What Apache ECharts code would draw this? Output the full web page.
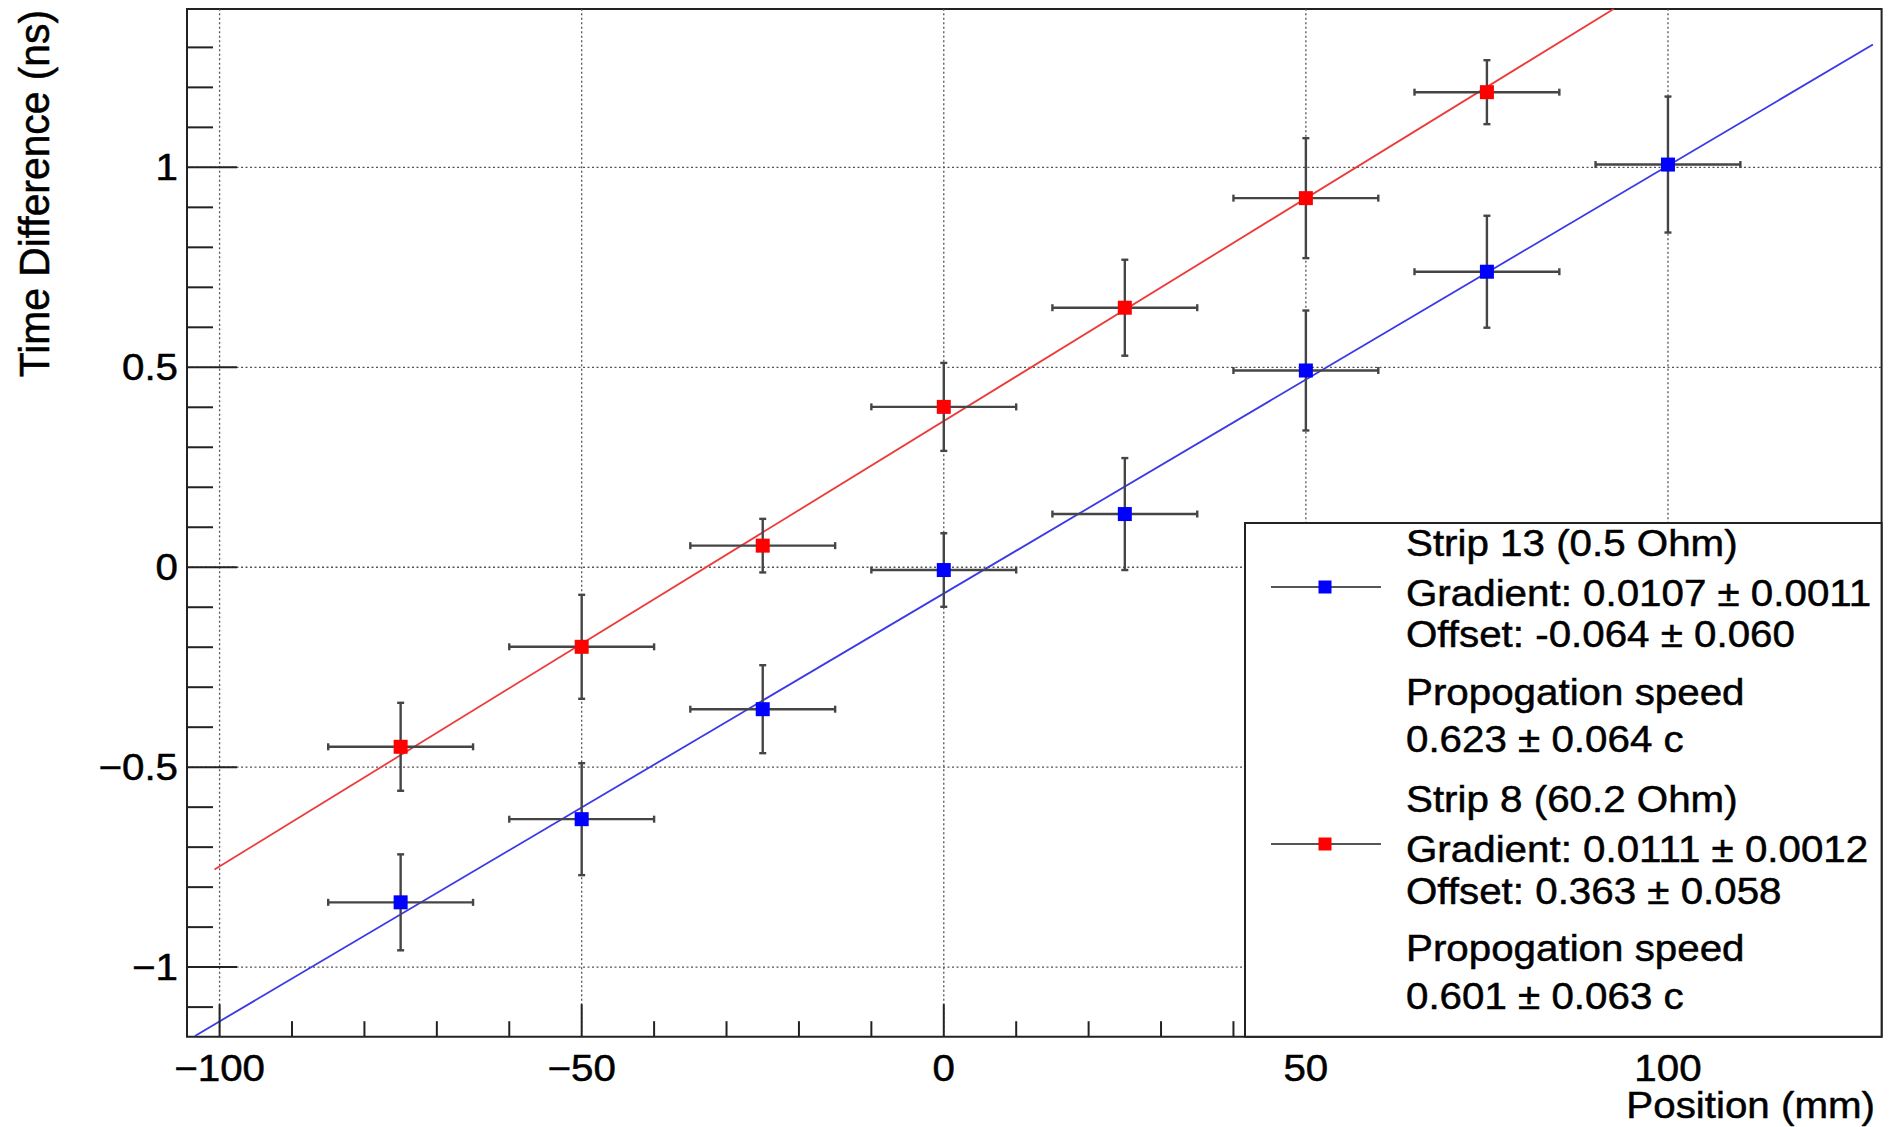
<!DOCTYPE html>
<html><head><meta charset="utf-8">
<script src="https://cdn.jsdelivr.net/npm/echarts@6/dist/echarts.min.js"></script>
<style>html,body{margin:0;padding:0;background:#fff}#c{width:1891px;height:1127px}</style>
</head><body><div id="c"></div>
<script>
// ---- data ----
const positions13 = [-75, -50, -25, 0, 25, 50, 75, 100];
const values13    = [-0.838, -0.630, -0.355, -0.007, 0.133, 0.492, 0.739, 1.007];
const yErr13      = [0.12, 0.14, 0.11, 0.092, 0.14, 0.15, 0.14, 0.17];
const xErr13      = [10, 10, 10, 10, 10, 10, 10, 10];

const positions8 = [-75, -50, -25, 0, 25, 50, 75];
const values8    = [-0.449, -0.199, 0.054, 0.401, 0.649, 0.923, 1.188];
const yErr8      = [0.11, 0.13, 0.067, 0.11, 0.12, 0.15, 0.08];
const xErr8      = [10, 10, 10, 10, 10, 10, 10];

// fit-line end points
const fitLine13 = [[-103.4, -1.172], [128.3, 1.307]];
const fitLine8  = [[-100.7, -0.756], [92.5, 1.396]];

const xRange = [-104.5, 129.5];
const yRange = [-1.174, 1.396];

const xMajorTicks  = [-100, -50, 0, 50, 100];
const xMajorLabels = ['\u2212100', '\u221250', '0', '50', '100'];
const xMinorTicks  = [-90, -80, -70, -60, -40, -30, -20, -10, 10, 20, 30, 40, 60, 70, 80, 90, 110, 120];
const yMajorTicks  = [-1, -0.5, 0, 0.5, 1];
const yMajorLabels = ['\u22121', '\u22120.5', '0', '0.5', '1'];
const yMinorTicks  = [-1.1, -0.9, -0.8, -0.7, -0.6, -0.4, -0.3, -0.2, -0.1, 0.1, 0.2, 0.3, 0.4, 0.6, 0.7, 0.8, 0.9, 1.1, 1.2, 1.3];

const xTitle = 'Position (mm)';
const yTitle = 'Time Difference (ns)';
const legendText13 = ['Strip 13 (0.5 Ohm)', 'Gradient: 0.0107 \u00b1 0.0011', 'Offset: -0.064 \u00b1 0.060', 'Propogation speed', '0.623 \u00b1 0.064 c'];
const legendText8  = ['Strip 8 (60.2 Ohm)', 'Gradient: 0.0111 \u00b1 0.0012', 'Offset: 0.363 \u00b1 0.058', 'Propogation speed', '0.601 \u00b1 0.063 c'];

// ---- styles ----
const FONT = 'Liberation Sans, Arial, Helvetica, sans-serif';
const FS = 37;
const SX = 1.09;
const AX = '#222';
const ERR = '#454545';

const chart = echarts.init(document.getElementById('c'), null, {renderer: 'svg'});

function txt(x, y, text, align, valign, extra) {
  return Object.assign({
    type: 'text', x: x, y: y, scaleX: SX,
    style: {text: text, fontSize: FS, fontFamily: FONT, fill: '#000', stroke: '#000', lineWidth: 0.5,
      align: align, verticalAlign: valign, textAlign: align, textVerticalAlign: valign}
  }, extra || {});
}

const gridLineStyle = {stroke: '#555', lineWidth: 1.3, lineDash: [2, 2.5]};

function vGrid(params, api) {
  const v = api.value(0);
  const a = api.coord([v, yRange[0]]), b = api.coord([v, yRange[1]]);
  return {type: 'line', shape: {x1: a[0], y1: a[1], x2: b[0], y2: b[1]}, style: gridLineStyle};
}
function hGrid(params, api) {
  const v = api.value(1);
  const a = api.coord([xRange[0], v]), b = api.coord([xRange[1], v]);
  return {type: 'line', shape: {x1: a[0], y1: a[1], x2: b[0], y2: b[1]}, style: gridLineStyle};
}
function xTick(len) {
  return function (params, api) {
    const p = api.coord([api.value(0), yRange[0]]);
    return {type: 'line', shape: {x1: p[0], y1: p[1], x2: p[0], y2: p[1] - len}, style: {stroke: AX, lineWidth: 2}};
  };
}
function yTick(len) {
  return function (params, api) {
    const p = api.coord([xRange[0], api.value(1)]);
    return {type: 'line', shape: {x1: p[0], y1: p[1], x2: p[0] + len, y2: p[1]}, style: {stroke: AX, lineWidth: 2}};
  };
}
function xLabel(params, api) {
  const p = api.coord([api.value(0), yRange[0]]);
  return txt(p[0], p[1] + 31, xMajorLabels[params.dataIndex], 'center', 'middle');
}
function yLabel(params, api) {
  const p = api.coord([xRange[0], api.value(1)]);
  return txt(p[0] - 9, p[1], yMajorLabels[params.dataIndex], 'right', 'middle');
}
function errBar(params, api) {
  const x = api.value(0), y = api.value(1), ex = api.value(2), ey = api.value(3);
  const l = api.coord([x - ex, y]), r = api.coord([x + ex, y]);
  const t = api.coord([x, y + ey]), b = api.coord([x, y - ey]);
  const c = 3.5;
  const st = {stroke: ERR, lineWidth: 2.4};
  const ln = (x1, y1, x2, y2) => ({type: 'line', shape: {x1, y1, x2, y2}, style: st});
  return {type: 'group', children: [
    ln(l[0], l[1], r[0], r[1]), ln(t[0], t[1], b[0], b[1]),
    ln(l[0], l[1] - c, l[0], l[1] + c), ln(r[0], r[1] - c, r[0], r[1] + c),
    ln(t[0] - c, t[1], t[0] + c, t[1]), ln(b[0] - c, b[1], b[0] + c, b[1])
  ]};
}

const err13 = positions13.map((x, i) => [x, values13[i], xErr13[i], yErr13[i]]);
const err8  = positions8.map((x, i) => [x, values8[i], xErr8[i], yErr8[i]]);
const pts13 = positions13.map((x, i) => [x, values13[i]]);
const pts8  = positions8.map((x, i) => [x, values8[i]]);

function custom(name, data, fn, z, enc) {
  return {type: 'custom', name: name, data: data, renderItem: fn, z: z, clip: false, silent: true,
    encode: enc || {x: 0, y: 1}, animation: false};
}

// legend block
const LX = 1245, LY = 523, LW = 636.6, LH = 513.7;
const textX = 1406;
const rows13 = [543, 593, 634, 692, 739];
const rows8 = [799, 849, 891, 948, 996];
const legendEls = [
  {type: 'rect', z: 100, shape: {x: LX, y: LY, width: LW, height: LH}, style: {fill: '#ffffff', stroke: AX, lineWidth: 2}},
  {type: 'line', z: 101, shape: {x1: 1271, y1: 587, x2: 1381, y2: 587}, style: {stroke: '#555', lineWidth: 2}},
  {type: 'rect', z: 102, shape: {x: 1318.5, y: 580.5, width: 13, height: 13}, style: {fill: '#0000ff'}},
  {type: 'line', z: 101, shape: {x1: 1271, y1: 844, x2: 1381, y2: 844}, style: {stroke: '#555', lineWidth: 2}},
  {type: 'rect', z: 102, shape: {x: 1318.5, y: 837.5, width: 13, height: 13}, style: {fill: '#ff0000'}}
];
legendText13.forEach((t, i) => legendEls.push(txt(textX, rows13[i], t, 'left', 'middle', {z: 103})));
legendText8.forEach((t, i) => legendEls.push(txt(textX, rows8[i], t, 'left', 'middle', {z: 103})));

const option = {
  backgroundColor: '#fff',
  animation: false,
  grid: {left: 187, right: 9.4, top: 9, bottom: 90.3, show: true, borderColor: AX, borderWidth: 2, backgroundColor: 'transparent'},
  xAxis: {type: 'value', min: xRange[0], max: xRange[1], show: false},
  yAxis: {type: 'value', min: yRange[0], max: yRange[1], show: false},
  series: [
    custom('vgrid', xMajorTicks.map(v => [v, 0]), vGrid, 1),
    custom('hgrid', yMajorTicks.map(v => [0, v]), hGrid, 1),
    {type: 'line', name: 'fit13', data: fitLine13, showSymbol: false, symbol: 'none', clip: true, z: 2, silent: true,
      lineStyle: {color: '#3a3ae6', width: 1.8}},
    {type: 'line', name: 'fit8', data: fitLine8, showSymbol: false, symbol: 'none', clip: true, z: 2, silent: true,
      lineStyle: {color: '#ec3b3b', width: 1.8}},
    custom('err13', err13, errBar, 3),
    custom('err8', err8, errBar, 3),
    {type: 'scatter', name: 'Strip 13', data: pts13, symbol: 'rect', symbolSize: 14, z: 4, silent: true,
      itemStyle: {color: '#0000ff', opacity: 1}},
    {type: 'scatter', name: 'Strip 8', data: pts8, symbol: 'rect', symbolSize: 14, z: 4, silent: true,
      itemStyle: {color: '#ff0000', opacity: 1}},
    custom('xMajor', xMajorTicks.map(v => [v, 0]), xTick(32.5), 5),
    custom('xMinor', xMinorTicks.map(v => [v, 0]), xTick(15.5), 5),
    custom('yMajor', yMajorTicks.map(v => [0, v]), yTick(50), 5),
    custom('yMinor', yMinorTicks.map(v => [0, v]), yTick(26), 5),
    custom('xLabels', xMajorTicks.map(v => [v, 0]), xLabel, 5),
    custom('yLabels', yMajorTicks.map(v => [0, v]), yLabel, 5)
  ],
  graphic: {
    elements: legendEls.concat([
      txt(1875, 1105, xTitle, 'right', 'middle', {z: 100}),
      {type: 'text', x: 34, y: 10, rotation: Math.PI / 2, scaleY: 1.05, z: 100,
        style: {text: yTitle, fontSize: 40.8, fontFamily: FONT, fill: '#000', stroke: '#000', lineWidth: 0.5,
          align: 'right', verticalAlign: 'middle', textAlign: 'right', textVerticalAlign: 'middle'}}
    ])
  }
};
chart.setOption(option);
</script>
</body></html>
